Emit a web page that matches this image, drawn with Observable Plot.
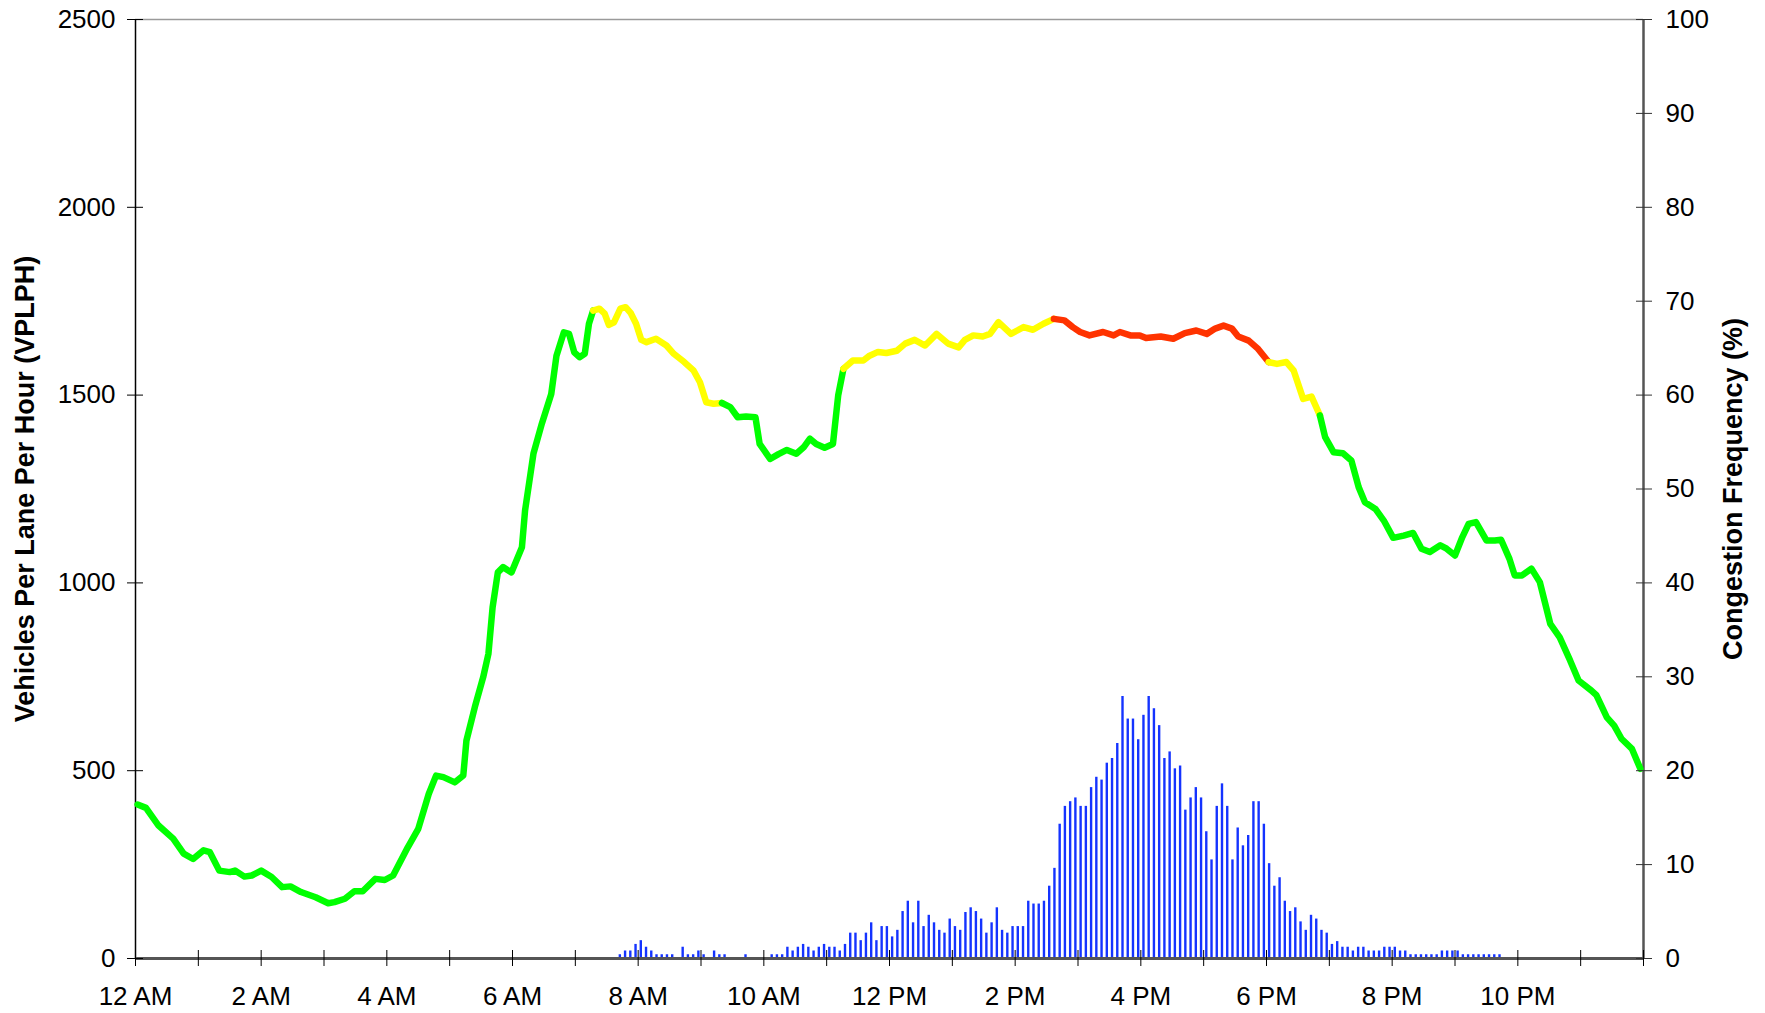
<!DOCTYPE html>
<html>
<head>
<meta charset="utf-8">
<script src="https://cdn.jsdelivr.net/npm/d3@7"></script>
<script src="https://cdn.jsdelivr.net/npm/@observablehq/plot@0.6"></script>
<style>
  html, body { margin: 0; padding: 0; background: #fff; }
  #chart svg { display: block; }
</style>
</head>
<body>
<div id="chart"></div>
<script>
// ---- Traffic volume (VPLPH) sampled along the day, minutes after midnight ----
const lineMinutes = [
  2,10,22,36,46,55,65,71,80,90,95,104,111,120,130,140,148,158,172,184,190,200,209,217,229,238,246,
  260,270,280,287,294,305,313,316,324,332,337,341,346,351,359,369,372,380,388,397,402,409,414,419,424,429,433,437,
  443,448,452,457,463,468,473,478,483,488,497,507,514,524,533,539,545,552,560,
  568,575,583,592,596,606,614,622,631,638,644,650,658,666,671,676,
  685,695,701,709,717,727,735,744,754,765,776,786,792,800,809,816,824,836,848,857,867,877,
  887,895,902,911,924,934,940,950,959,965,979,991,1002,1013,1023,1031,1039,1047,1053,1063,1072,1082,
  1090,1099,1106,1115,1123,1131,
  1136,1144,1153,1161,1168,1174,1184,1192,1201,1211,1220,1228,1236,1246,1252,1260,1267,1273,1280,1290,
  1298,1304,1312,1317,1324,1333,1341,1351,1360,1370,1378,1390,1395,1405,1412,1419,1429,1437
];
const lineVplph = [
  410,401,354,319,279,265,288,283,234,230,234,218,221,234,217,190,192,177,163,147,150,159,179,179,212,209,221,
  296,345,438,487,483,469,487,580,669,749,811,935,1028,1042,1028,1095,1193,1344,1424,1503,1605,1667,1663,1614,1601,1610,1690,1725,
  1730,1717,1687,1694,1730,1734,1718,1690,1647,1641,1650,1632,1610,1588,1565,1534,1481,1477,1479,
  1468,1441,1443,1441,1370,1330,1343,1354,1344,1361,1384,1370,1360,1370,1499,1570,
  1592,1592,1605,1615,1612,1618,1637,1647,1632,1663,1637,1627,1647,1659,1656,1663,1694,1663,1681,1674,1690,1703,
  1699,1681,1668,1659,1668,1659,1668,1659,1659,1652,1656,1650,1665,1672,1663,1677,1685,1677,1656,1645,1623,1588,
  1583,1588,1565,1490,1496,1446,
  1388,1348,1345,1326,1255,1215,1197,1166,1120,1126,1133,1091,1082,1100,1091,1073,1122,1157,1162,1113,
  1113,1115,1064,1020,1020,1038,1002,891,855,793,740,714,701,642,620,585,558,505
];

// ---- Traffic condition along the line (minute where the condition changes) ----
const levelBreaks = [437, 560, 676, 877, 1082, 1131];
const levelNames  = ["free", "heavy", "free", "heavy", "congested", "heavy", "free"];
const levelColors = { free: "#00ff00", heavy: "#ffff00", congested: "#ff3300" };

// ---- Congestion frequency (%) per 5-minute bin, starting at bin 92 (7:40 AM) ----
const freqFirstBin = 92;
const freqValues = [
  0.4,0.8,0.8,1.5,1.9,1.2,0.8,0.4,0.4,0.4,0.4,0,1.2,0.4,0.4,0.8,0.4,0,0.8,0.4,0.4,0,0,0,
  0.4,0,0,0,0,0.4,0.4,0.4,1.2,0.8,1.2,1.5,1.2,0.8,1.2,1.5,1.2,1.2,0.8,1.5,2.7,2.7,1.9,2.7,
  3.8,1.9,3.4,3.4,2.3,3.0,5.0,6.1,3.8,6.1,3.4,4.6,3.8,3.0,2.7,4.2,3.4,3.0,4.9,5.4,5.0,4.2,
  2.7,3.8,5.4,3.0,2.7,3.4,3.4,3.4,6.1,5.8,5.8,6.1,7.7,9.6,14.3,16.2,16.7,17.1,16.2,16.2,18.2,
  19.3,19.0,20.8,21.3,22.9,27.9,25.5,25.5,23.3,25.9,27.9,26.6,24.8,21.3,22.0,20.2,20.5,15.8,
  17.1,18.2,17.1,13.5,10.5,16.2,18.6,16.2,10.5,13.9,12.0,13.1,16.7,16.7,14.3,10.1,7.7,8.6,
  6.1,5.0,5.4,3.9,3.0,4.6,4.2,3.0,2.7,1.5,1.8,1.2,1.2,0.8,1.2,1.2,0.8,0.8,0.8,1.2,1.2,1.2,
  0.8,0.8,0.4,0.4,0.4,0.4,0.4,0.4,0.8,0.8,0.8,0.8,0.4,0.4,0.4,0.4,0.4,0.4,0.4,0.4
];

// ---- Axes ----
const leftTicks  = [0, 500, 1000, 1500, 2000, 2500];
const rightTicks = [0, 10, 20, 30, 40, 50, 60, 70, 80, 90, 100];
const rightMax = 100, leftMax = 2500;
const hourTicks  = [0,60,120,180,240,300,360,420,480,540,600,660,720,780,840,900,960,1020,1080,1140,1200,1260,1320,1380,1440];
const labelTicks = [0,120,240,360,480,600,720,840,960,1080,1200,1320];
const labelText  = ["12 AM","2 AM","4 AM","6 AM","8 AM","10 AM","12 PM","2 PM","4 PM","6 PM","8 PM","10 PM"];
const yTitle  = "Vehicles Per Lane Per Hour (VPLPH)";
const y2Title = "Congestion Frequency (%)";

// ---- Build tables ----
const points = lineMinutes.map((m, i) => ({ m, v: lineVplph[i] }));
const bounds = [0, ...levelBreaks, 1440];
const segs = [];
levelNames.forEach((lvl, s) => {
  points.filter(p => p.m >= bounds[s] && p.m <= bounds[s + 1])
        .forEach(p => segs.push({ m: p.m, v: p.v, seg: s, color: levelColors[lvl] }));
});
const k = leftMax / rightMax;
const bars = freqValues.map((f, j) => ({ m: (freqFirstBin + j) * 5 + 2.5, f }))
                       .filter(d => d.f > 0);

const chart = Plot.plot({
  width: 1765,
  height: 1013,
  marginLeft: 135,
  marginRight: 122,
  marginTop: 19,
  marginBottom: 55,
  style: { fontFamily: "'Liberation Sans', Arial, Helvetica, sans-serif", fontSize: "26px", color: "#000", background: "#fff" },
  x: { domain: [0, 1440] },
  y: { domain: [0, leftMax] },
  marks: [
    Plot.ruleX(bars, { x: "m", y1: 0, y2: d => d.f * k, stroke: "#1433ff", strokeWidth: 2.4 }),
    Plot.ruleY([leftMax], { stroke: "#9a9a9a", strokeWidth: 1.5 }),
    Plot.ruleX([1440], { stroke: "#555", strokeWidth: 2.5 }),
    Plot.ruleX([0], { stroke: "#000", strokeWidth: 1.5 }),
    Plot.ruleY([0], { stroke: "#555", strokeWidth: 3 }),
    Plot.line(segs, { x: "m", y: "v", z: "seg", stroke: "color", strokeWidth: 6.5, strokeLinejoin: "round" }),
    Plot.axisY(leftTicks, { anchor: "left", tickSize: 16, dx: 8, tickPadding: 12, label: null, fontSize: 26,
      tickFormat: v => String(v) }),
    Plot.axisY(rightTicks.map(t => t * k), { anchor: "right", tickSize: 16, dx: -8, tickPadding: 14,
      tickFormat: v => String(Math.round(v / k)), label: null, fontSize: 26, stroke: "#333" }),
    Plot.axisX(hourTicks, { anchor: "bottom", tickSize: 16, dy: -8, tickFormat: () => "", label: null }),
    Plot.axisX(labelTicks, { anchor: "bottom", tickSize: 0, tickPadding: 28,
      tickFormat: m => labelText[labelTicks.indexOf(m)], label: null, fontSize: 26 }),
    Plot.text([yTitle], { frameAnchor: "left", textAnchor: "middle", rotate: -90, dx: -110,
      fontWeight: "bold", fontSize: 27, fill: "#000" }),
    Plot.text([y2Title], { frameAnchor: "right", textAnchor: "middle", rotate: -90, dx: 90,
      fontWeight: "bold", fontSize: 27, fill: "#000" })
  ]
});
document.getElementById("chart").appendChild(chart);
</script>
</body>
</html>
